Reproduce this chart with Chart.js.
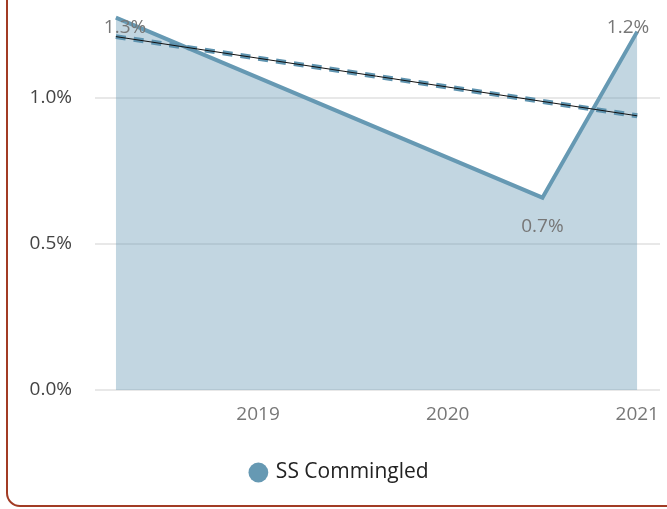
<!DOCTYPE html>
<html>
<head>
<meta charset="utf-8">
<script src="https://cdn.jsdelivr.net/npm/chart.js@4/dist/chart.umd.min.js"></script>
<style>
    html, body { margin: 0; padding: 0; background: #fff; overflow: hidden; }
    #wrap { position: relative; width: 667px; height: 509px; }
    #frame {
        position: absolute; left: 6px; top: -40px; width: 720px; height: 547px;
        border: 2px solid #a23b24; border-radius: 14px; box-sizing: border-box;
    }
    #chart { position: absolute; left: 0; top: 0; }
</style>
</head>
<body>
<div id="wrap">
    <div id="frame"></div>
    <canvas id="chart" width="667" height="509"></canvas>
</div>
<script>
// values (years as decimals, percent values)
const seriesName = 'SS Commingled';
const years = [2018.25, 2020.5, 2021.0];
const returns = [1.274, 0.658, 1.226];
const trendYears = [2018.25, 2021.0];
const trendValues = [1.209, 0.938];
const xTicks = [2019, 2020, 2021];
const yTicks = [0, 0.5, 1.0];

const lineColor = '#6699b3';
const fontFamily = '"Open Sans", "Noto Sans", sans-serif';

function toPoints(xs, ys) {
    return xs.map((x, i) => ({ x: x, y: ys[i] }));
}

// value labels: above the point, below if it is a dip; kept inside the plot
const valueLabels = {
    id: 'valueLabels',
    afterDatasetsDraw(chart) {
        const meta = chart.getDatasetMeta(0);
        const area = chart.chartArea;
        const ctx = chart.ctx;
        ctx.save();
        ctx.font = `19px ${fontFamily}`;
        ctx.fillStyle = '#777';
        ctx.textAlign = 'center';
        ctx.textBaseline = 'middle';
        meta.data.forEach((pt, i) => {
            const v = returns[i];
            const prev = i > 0 ? returns[i - 1] : Infinity;
            const next = i < returns.length - 1 ? returns[i + 1] : Infinity;
            const dip = v < prev && v < next;
            let y = dip ? pt.y + 29 : pt.y - 20;
            y = Math.max(y, area.top + 18);
            let x = Math.min(Math.max(pt.x, area.left + 30), area.right - 32);
            ctx.fillText(v.toFixed(1) + '%', x, y);
        });
        ctx.restore();
    }
};

// the legend sits a bit right of centre in the original
const legendShift = {
    id: 'legendShift',
    afterLayout(chart) {
        chart.legend.left += 10;
        chart.legend.right += 10;
    }
};

const ctx = document.getElementById('chart').getContext('2d');
new Chart(ctx, {
    type: 'line',
    data: {
        datasets: [
            {
                label: seriesName,
                data: toPoints(years, returns),
                borderColor: lineColor,
                backgroundColor: 'rgba(102, 153, 179, 0.4)',
                borderWidth: 4,
                pointRadius: 0,
                tension: 0,
                fill: 'origin',
                order: 3,
            },
            {
                label: 'trend',
                data: toPoints(trendYears, trendValues),
                borderColor: '#5e93af',
                borderWidth: 5,
                borderDash: [10, 8],
                pointRadius: 0,
                fill: false,
                order: 2,
            },
            {
                label: 'trend line',
                data: toPoints(trendYears, trendValues),
                borderColor: '#111',
                borderWidth: 1,
                pointRadius: 0,
                fill: false,
                order: 1,
            },
        ],
    },
    options: {
        responsive: false,
        animation: false,
        layout: { padding: { left: 0, right: 7, top: 10, bottom: 16 } },
        scales: {
            x: {
                type: 'linear',
                min: 2018.14,
                max: 2021.12,
                afterBuildTicks: (scale) => { scale.ticks = xTicks.map(v => ({ value: v })); },
                afterFit: (scale) => {
                    scale.height = 62;
                    scale.paddingLeft = 0;
                    scale.paddingRight = 0;
                },
                grid: { display: false },
                border: { display: false },
                ticks: {
                    color: '#777',
                    font: { family: fontFamily, size: 19 },
                    padding: 5,
                    maxRotation: 0,
                    callback: (v) => String(v),
                },
            },
            y: {
                min: 0,
                max: 1.3,
                afterBuildTicks: (scale) => { scale.ticks = yTicks.map(v => ({ value: v })); },
                afterFit: (scale) => {
                    scale.width = 95;
                    scale.paddingTop = 0;
                    scale.paddingBottom = 0;
                },
                grid: { color: '#e8e8e8', lineWidth: 2, drawTicks: false },
                border: { display: false },
                ticks: {
                    color: '#444',
                    font: { family: fontFamily, size: 19 },
                    padding: 23,
                    callback: (v) => v.toFixed(1) + '%',
                },
            },
        },
        plugins: {
            legend: {
                position: 'bottom',
                labels: {
                    usePointStyle: true,
                    pointStyle: 'circle',
                    boxHeight: 14,
                    boxWidth: 14,
                    color: '#222',
                    font: { family: fontFamily, size: 21 },
                    padding: 10,
                    filter: (item) => item.datasetIndex === 0,
                    generateLabels: (chart) => {
                        const items = Chart.defaults.plugins.legend.labels.generateLabels(chart);
                        items.forEach(it => { it.fillStyle = lineColor; it.strokeStyle = lineColor; it.lineWidth = 0; });
                        return items;
                    },
                },
            },
            tooltip: { enabled: false },
        },
    },
    plugins: [valueLabels, legendShift],
});
</script>
</body>
</html>
